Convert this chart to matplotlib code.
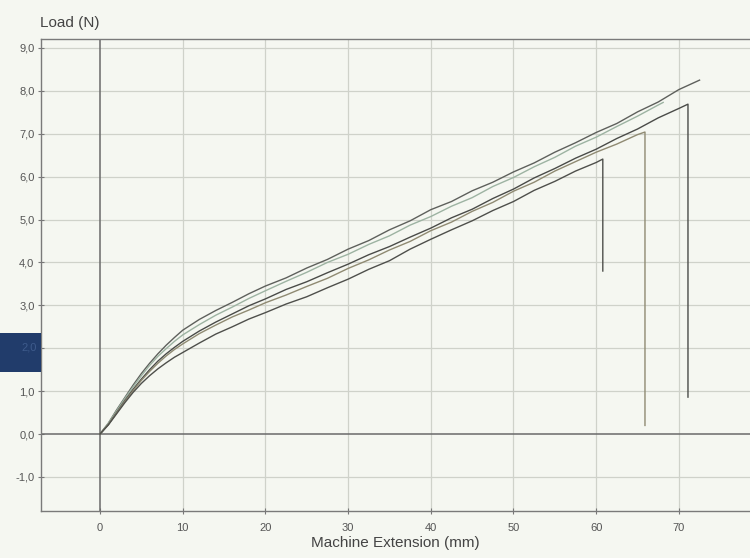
import matplotlib
matplotlib.use("Agg")
import matplotlib.pyplot as plt
from matplotlib.patches import Rectangle

# Tensile test results: load vs. machine extension for five specimens
ext_common = [0, 1, 2, 3, 4, 5, 6, 7, 8, 9, 10, 12, 14, 16, 18, 20, 22.5, 25, 27.5,
              30, 32.5, 35, 37.5, 40, 42.5, 45, 47.5, 50, 52.5, 55, 57.5, 60]

load_a = [0, 0.25, 0.56, 0.85, 1.14, 1.41, 1.65, 1.87, 2.07, 2.25, 2.42, 2.67, 2.88,
          3.07, 3.27, 3.45, 3.64, 3.87, 4.07, 4.31, 4.51, 4.76, 4.97, 5.23, 5.42,
          5.67, 5.87, 6.11, 6.32, 6.57, 6.79, 7.03]
ext_a_tail = [62.5, 65, 67.5, 70, 72.5]
load_a_tail = [7.24, 7.51, 7.74, 8.03, 8.25]

load_b = [0, 0.25, 0.54, 0.83, 1.10, 1.36, 1.60, 1.81, 1.99, 2.16, 2.31, 2.55, 2.77,
          2.96, 3.16, 3.34, 3.56, 3.77, 4.00, 4.19, 4.42, 4.62, 4.87, 5.07, 5.31,
          5.51, 5.77, 5.98, 6.23, 6.45, 6.71, 6.92]
ext_b_tail = [62.5, 65, 67.5, 68.1]
load_b_tail = [7.17, 7.41, 7.67, 7.73]

load_c = [0, 0.22, 0.50, 0.78, 1.04, 1.28, 1.50, 1.70, 1.87, 2.02, 2.16, 2.40, 2.61,
          2.80, 2.99, 3.15, 3.37, 3.55, 3.76, 3.96, 4.18, 4.37, 4.59, 4.80, 5.04,
          5.24, 5.49, 5.71, 5.97, 6.19, 6.43, 6.64]
ext_c_tail = [62.5, 65, 67.5, 70, 71.1, 71.1]
load_c_tail = [6.89, 7.11, 7.37, 7.59, 7.69, 0.86]

load_d = [0, 0.22, 0.49, 0.76, 1.01, 1.25, 1.46, 1.65, 1.82, 1.97, 2.10, 2.34, 2.54,
          2.73, 2.89, 3.06, 3.24, 3.44, 3.63, 3.86, 4.06, 4.29, 4.49, 4.74, 4.94,
          5.19, 5.40, 5.66, 5.87, 6.13, 6.35, 6.57]
ext_d_tail = [62.5, 65, 65.9, 65.9]
load_d_tail = [6.76, 6.98, 7.04, 0.20]

ext_e = [0, 1, 2, 3, 4, 5, 6, 7, 8, 9, 10, 12, 14, 16, 18, 20, 22.5, 25, 27.5,
         30, 32.5, 35, 37.5, 40, 42.5, 45, 47.5, 50, 52.5, 55, 57.5, 60, 60.8, 60.8]
load_e = [0, 0.21, 0.47, 0.73, 0.97, 1.18, 1.36, 1.52, 1.66, 1.79, 1.90, 2.12, 2.33,
          2.50, 2.68, 2.83, 3.03, 3.20, 3.41, 3.61, 3.84, 4.04, 4.31, 4.54, 4.76,
          4.97, 5.21, 5.42, 5.68, 5.89, 6.13, 6.33, 6.41, 3.80]

y_ticks = [-1, 0, 1, 2, 3, 4, 5, 6, 7, 8, 9]
y_labels = ["-1,0", "0,0", "1,0", "2,0", "3,0", "4,0", "5,0", "6,0", "7,0", "8,0", "9,0"]
x_ticks = [0, 10, 20, 30, 40, 50, 60, 70]
x_labels = ["0", "10", "20", "30", "40", "50", "60", "70"]

plt.rcParams['font.family'] = ['Liberation Sans', 'DejaVu Sans']

paper = "#f5f7f1"
fig = plt.figure(figsize=(7.5, 5.58), dpi=100, facecolor=paper)
ax = fig.add_axes([0.0543, 0.0842, 0.9457, 0.846], facecolor=paper)

ax.set_xlim(-7.17, 78.6)
ax.set_ylim(-1.795, 9.21)

# grid
for yv in y_ticks:
    if yv != 0:
        ax.axhline(yv, color="#cfd2ca", lw=0.9, zorder=1)
for xv in [10, 20, 30, 40, 50, 60, 70]:
    ax.axvline(xv, color="#cfd2ca", lw=0.9, zorder=1)
ax.axhline(0, color="#6a6a6a", lw=1.1, zorder=2)
ax.axvline(0, color="#6a6a6a", lw=1.1, zorder=2)

curves = [
    (ext_common + ext_a_tail, load_a + load_a_tail, "#5e605c"),
    (ext_common + ext_b_tail, load_b + load_b_tail, "#9db3a2"),
    (ext_common + ext_c_tail, load_c + load_c_tail, "#4a4b48"),
    (ext_common + ext_d_tail, load_d + load_d_tail, "#8f8a72"),
    (ext_e, load_e, "#4e4f4b"),
]
for xs, ys, col in curves:
    ax.plot(xs, ys, color=col, lw=1.0, zorder=3)

ax.set_yticks(y_ticks)
ax.set_yticklabels(y_labels)
ax.set_xticks(x_ticks)
ax.set_xticklabels(x_labels)
ax.tick_params(axis="both", colors="#777777", labelcolor="#555555", labelsize=8,
               length=5, width=0.8, direction="inout")
ax.tick_params(axis="x", pad=6)
ax.tick_params(axis="y", pad=2)

for side in ["left", "bottom", "top"]:
    ax.spines[side].set_color("#7a7a7a")
    ax.spines[side].set_linewidth(1.0)
ax.spines["right"].set_visible(False)

ax.set_xlabel("Machine Extension (mm)", fontsize=11, color="#444444", labelpad=2)
fig.text(0.054, 0.958, "Load (N)", fontsize=11, color="#444444", ha="left", va="center")

# dark tab over the left margin; the 2,0 label shows faintly through it
ax.get_yticklabels()[y_ticks.index(2)].set_visible(False)
fig.patches.append(Rectangle((0, (558 - 372) / 558), 40.5 / 750, 39 / 558,
                             transform=fig.transFigure, facecolor="#213c6b",
                             edgecolor="none", zorder=10))
fig.text(37 / 750, (558 - 348) / 558, "2,0", fontsize=8, color="#3e5b8c",
         ha="right", va="center", zorder=11)

fig.savefig("out.png", dpi=100, facecolor=paper)
